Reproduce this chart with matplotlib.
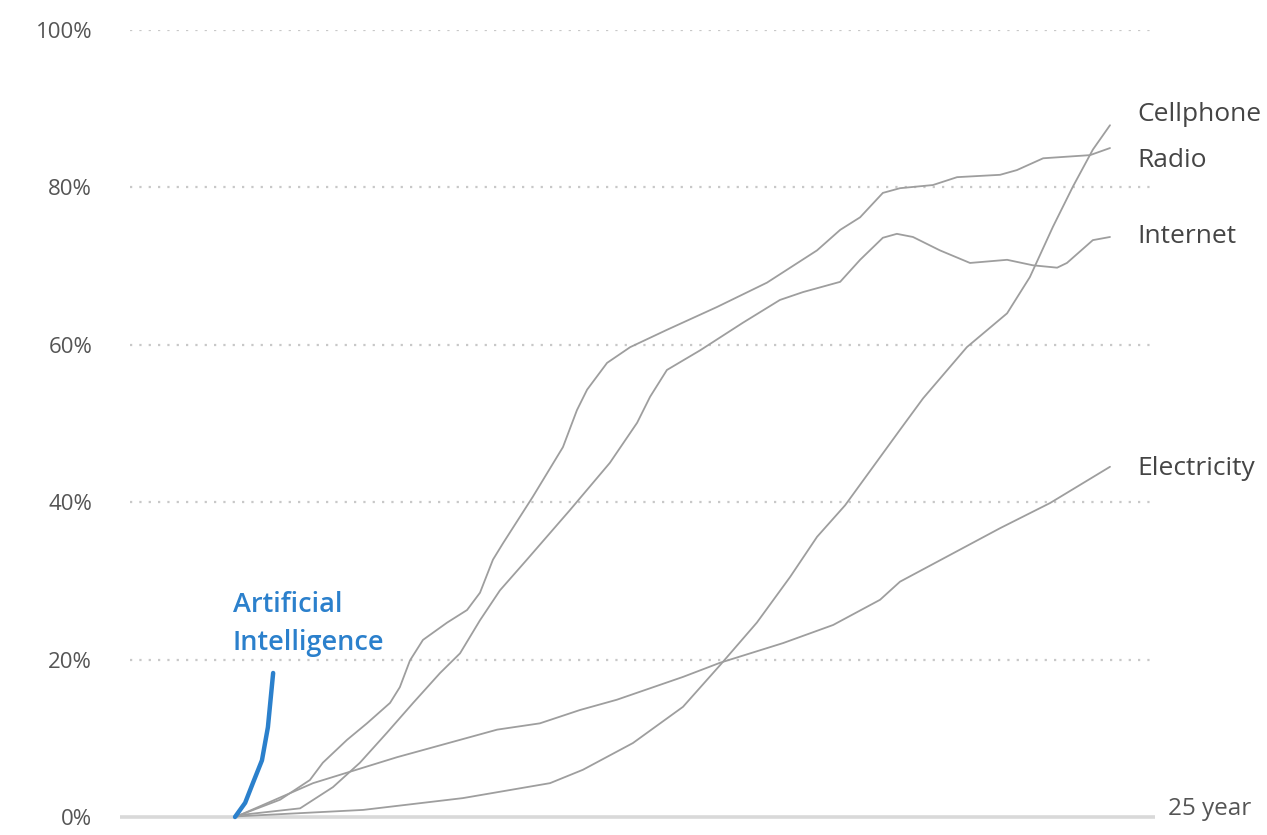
import matplotlib
matplotlib.use("Agg")
import matplotlib.pyplot as plt

# adoption share (%) against years since introduction
radio_years = [0, 0.14, 1.29, 2.14, 2.51, 3.2, 3.77, 4.43, 4.71, 5.0, 5.37, 6.06,
               6.63, 7.0, 7.37, 7.66, 8.51, 9.37, 9.77, 10.06, 10.63, 11.29,
               12.34, 13.77, 15.2, 16.63, 17.29, 17.86, 18.51, 19.0, 19.94,
               20.63, 21.86, 22.34, 23.09, 24.43, 25.0]
radio_pct = [0, 0.25, 2.2, 4.7, 6.9, 9.8, 11.9, 14.5, 16.5, 19.9, 22.5, 24.7,
             26.3, 28.5, 32.7, 34.8, 40.7, 47.0, 51.7, 54.3, 57.7, 59.7,
             61.9, 64.8, 67.9, 72.0, 74.6, 76.2, 79.3, 79.9, 80.3,
             81.3, 81.6, 82.2, 83.7, 84.1, 85.0]

internet_years = [0, 0.14, 1.86, 2.8, 3.57, 4.34, 5.09, 5.86, 6.43, 7.0, 7.57,
                  8.34, 9.57, 10.71, 11.49, 11.86, 12.34, 13.29, 14.51, 15.57,
                  16.23, 17.29, 17.86, 18.51, 18.91, 19.37, 20.14, 21.0, 22.06,
                  22.8, 23.49, 23.77, 24.51, 25.0]
internet_pct = [0, 0.25, 1.1, 3.8, 6.9, 10.7, 14.5, 18.3, 20.8, 25.0, 28.8,
                32.7, 39.0, 45.0, 50.1, 53.4, 56.8, 59.3, 62.8, 65.7,
                66.7, 68.0, 70.8, 73.6, 74.1, 73.7, 72.0, 70.4, 70.8,
                70.1, 69.8, 70.4, 73.3, 73.7]

cellphone_years = [0, 0.14, 3.66, 6.51, 9.0, 9.94, 11.37, 12.8, 13.86, 14.91,
                   15.86, 16.63, 17.43, 19.0, 19.66, 20.91, 22.06, 22.71,
                   23.37, 23.94, 24.51, 25.0]
cellphone_pct = [0, 0.1, 0.9, 2.4, 4.3, 6.0, 9.4, 14.0, 19.3, 24.7,
                 30.5, 35.6, 39.6, 49.2, 53.2, 59.7, 64.0, 68.6,
                 75.0, 80.1, 84.8, 87.9]

electricity_years = [0, 0.14, 2.23, 4.63, 7.49, 8.71, 9.86, 10.91, 12.8, 13.86,
                     15.66, 17.09, 18.43, 19.0, 20.43, 21.86, 23.29, 25.0]
electricity_pct = [0, 0.25, 4.3, 7.6, 11.1, 11.9, 13.6, 14.9, 17.8, 19.6,
                   22.1, 24.4, 27.6, 29.9, 33.3, 36.7, 39.9, 44.5]

ai_years = [0, 0.29, 0.51, 0.77, 0.94, 1.09]
ai_pct = [0, 1.8, 4.3, 7.2, 11.4, 18.3]

y_ticks = [0, 20, 40, 60, 80, 100]
y_tick_labels = ["0%", "20%", "40%", "60%", "80%", "100%"]

series = [
    ("Cellphone", cellphone_years, cellphone_pct, 88.4),
    ("Radio", radio_years, radio_pct, 82.6),
    ("Internet", internet_years, internet_pct, 72.9),
    ("Electricity", electricity_years, electricity_pct, 43.5),
]

FONT = ["Open Sans", "DejaVu Sans"]
GREY_LINE = "#9e9e9e"
LABEL_COLOR = "#454545"
AI_BLUE = "#2b80cc"

fig = plt.figure(figsize=(12.67, 8.35), dpi=100)
ax = fig.add_axes([120 / 1267, 18 / 835, 1035 / 1267, 787 / 835])

x_left, x_right = -115 / 35, 920 / 35
ax.set_xlim(x_left, x_right)
ax.set_ylim(0, 100)

# dotted gridlines and the solid baseline
ax.hlines(y_ticks[1:], -105 / 35, x_right, colors="#c8c8c8",
          linestyles=(0, (1, 3.2)), linewidth=1.6, zorder=1)
ax.hlines(0, x_left, x_right, colors="#d9d9d9", linewidth=2.6, zorder=1,
          clip_on=False)

for name, xs, ys, label_y in series:
    ax.plot(xs, ys, color=GREY_LINE, linewidth=1.3, zorder=2,
            solid_capstyle="round", solid_joinstyle="round", clip_on=False)
    ax.text(25.77, label_y, name, fontsize=19, color=LABEL_COLOR,
            family=FONT, va="baseline", ha="left")

ax.plot(ai_years, ai_pct, color=AI_BLUE, linewidth=3.2, zorder=3,
        solid_capstyle="round", solid_joinstyle="round", clip_on=False)
ax.text(-0.06, 26.05, "Artificial", fontsize=19.5, color=AI_BLUE,
        family=FONT, fontweight="semibold", va="baseline", ha="left")
ax.text(-0.06, 21.2, "Intelligence", fontsize=19.5, color=AI_BLUE,
        family=FONT, fontweight="semibold", va="baseline", ha="left")

ax.text(26.66, 0.2, "25 year", fontsize=17.5, color="#555555",
        family=FONT, va="baseline", ha="left")

ax.set_yticks(y_ticks)
ax.set_yticklabels(y_tick_labels, fontsize=16, color="#555555", family=FONT)
ax.tick_params(axis="y", length=0, pad=20)
ax.set_xticks([])
for spine in ax.spines.values():
    spine.set_visible(False)

fig.savefig("out.png", dpi=100, facecolor="white")
